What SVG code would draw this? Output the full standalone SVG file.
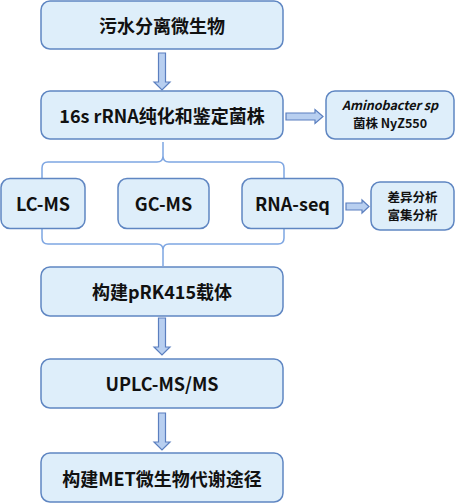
<svg xmlns="http://www.w3.org/2000/svg" width="455" height="504" viewBox="0 0 455 504">
<style>
.box{fill:#deeefa;stroke:#5f86c2;stroke-width:1.5}
.t{font-family:"Noto Sans CJK SC","Noto Sans",sans-serif;font-weight:bold;font-size:18px;fill:#111;text-anchor:middle;dominant-baseline:central}
.s{font-family:"Noto Sans CJK SC","Noto Sans",sans-serif;font-weight:bold;font-size:12.5px;fill:#111;text-anchor:middle}
.arr{fill:#b8cff0;stroke:#5b7fbf;stroke-width:1.2;stroke-linejoin:miter}
.br{fill:none;stroke:#7ea6e2;stroke-width:1.5}
</style>
<rect width="455" height="504" fill="#fff"/>
<g id="connectors">
<polygon class="arr" points="158.5,53 165.5,53 165.5,82 170,82 162,90 154,82 158.5,82"/>
<polygon class="arr" points="286,113 315,113 315,109.5 323,116.5 315,123.5 315,120 286,120"/>
<path class="br" d="M163,142 V156 Q163,162 157,162 H48 Q42,162 42,168 V178 M163,156 Q163,162 169,162 H278 Q284,162 284,168 V178"/>
<polygon class="arr" points="346,203 362,203 362,200 369,206.5 362,213 362,210 346,210"/>
<path class="br" d="M42,228 V238 Q42,244 48,244 H157 Q163,244 163,250 V266 M284,228 V238 Q284,244 278,244 H169 Q163,244 163,250"/>
<polygon class="arr" points="158.5,318 165.5,318 165.5,347 170,347 162,355 154,347 158.5,347"/>
<polygon class="arr" points="158.5,413 165.5,413 165.5,442 170,442 162,450 154,442 158.5,442"/>
</g>
<g id="n1"><rect class="box" x="41" y="1" width="242" height="48" rx="9"/><text class="t" x="162" y="25">污水分离微生物</text></g>
<g id="n2"><rect class="box" x="41" y="91" width="242" height="48" rx="9"/><text class="t" x="162" y="115">16s rRNA纯化和鉴定菌株</text></g>
<g id="n3"><rect class="box" x="326" y="91" width="128" height="48" rx="9"/><text class="s" x="390" y="109.5"><tspan x="390" font-style="italic">Aminobacter sp</tspan><tspan x="390" dy="18.3">菌株 NyZ550</tspan></text></g>
<g id="n4"><rect class="box" x="1" y="178.5" width="84" height="50" rx="9"/><text class="t" x="43" y="203">LC-MS</text></g>
<g id="n5"><rect class="box" x="118" y="178.5" width="91" height="50" rx="9"/><text class="t" x="163.5" y="203">GC-MS</text></g>
<g id="n6"><rect class="box" x="242" y="178.5" width="101" height="50" rx="9"/><text class="t" x="292.5" y="203">RNA-seq</text></g>
<g id="n7"><rect class="box" x="371" y="182" width="83" height="48" rx="9"/><text class="s" x="412.5" y="201.5"><tspan x="412.5">差异分析</tspan><tspan x="412.5" dy="18.3">富集分析</tspan></text></g>
<g id="n8"><rect class="box" x="41" y="267" width="242" height="49" rx="9"/><text class="t" x="162" y="291">构建pRK415载体</text></g>
<g id="n9"><rect class="box" x="41" y="359" width="242" height="49" rx="9"/><text class="t" x="162" y="383">UPLC-MS/MS</text></g>
<g id="n10"><rect class="box" x="41" y="453" width="242" height="49" rx="9"/><text class="t" x="162" y="478">构建MET微生物代谢途径</text></g>
</svg>
